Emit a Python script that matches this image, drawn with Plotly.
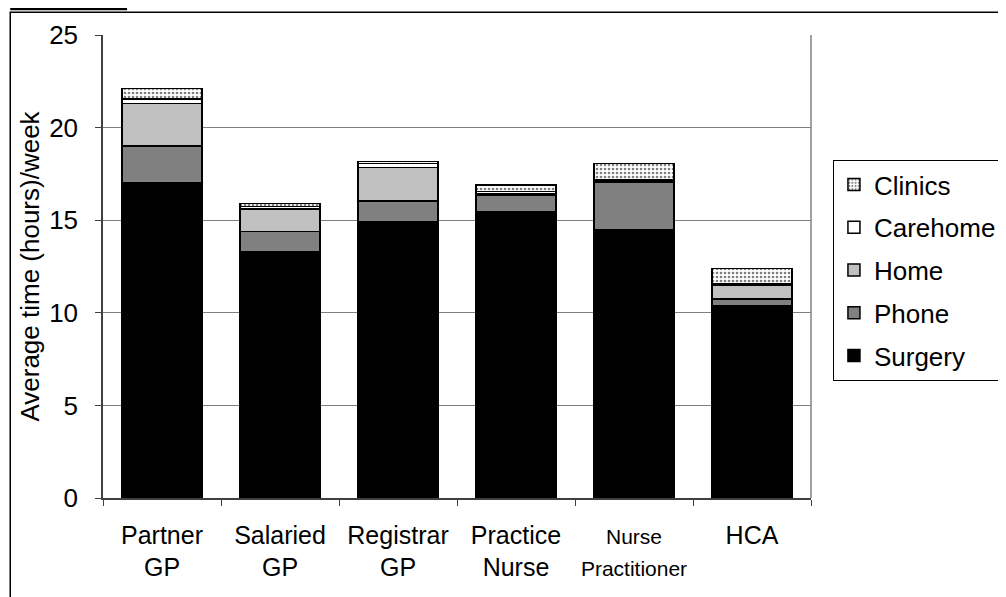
import plotly.graph_objects as go

categories = ["Partner<br>GP", "Salaried<br>GP", "Registrar<br>GP", "Practice<br>Nurse",
              "<span style='font-size:21px'>Nurse<br>Practitioner</span>", "HCA"]
surgery = [17.0, 13.3, 14.9, 15.45, 14.5, 10.4]
phone = [2.0, 1.1, 1.15, 0.9, 2.55, 0.35]
home = [2.3, 1.2, 1.8, 0.1, 0.1, 0.75]
carehome = [0.25, 0.15, 0.2, 0.1, 0.05, 0.05]
clinics = [0.55, 0.15, 0.12, 0.35, 0.85, 0.85]
y_ticks = [0, 5, 10, 15, 20, 25]

series = [
    ("Surgery", surgery, "#000000", None),
    ("Phone", phone, "#808080", None),
    ("Home", home, "#C0C0C0", None),
    ("Carehome", carehome, "#FFFFFF", None),
    ("Clinics", clinics, "#FFFFFF", "."),
]

fig = go.Figure()
n = len(series)
for i, (name, vals, color, pat) in enumerate(series):
    marker = dict(color=color, line=dict(color="#000000", width=1.5))
    if pat:
        marker["pattern"] = dict(shape=pat, fgcolor="#000000", bgcolor="#FFFFFF",
                                 size=4, solidity=0.35, fillmode="overlay")
    fig.add_trace(go.Bar(name=name, x=categories, y=vals, marker=marker,
                         legendgroup=name, legendrank=(n - i) * 100))

# page body has an 8px margin, so margins are reduced by 8px on left/top
fig.update_layout(
    barmode="stack",
    bargap=0.32,
    width=1006, height=597,
    margin=dict(l=95, r=202, t=25, b=107),
    paper_bgcolor="white", plot_bgcolor="white",
    font=dict(family="Liberation Sans, Arial, sans-serif", color="#000000", size=25),
    legend=dict(x=1.031, y=0.73, xanchor="left", yanchor="top",
                traceorder="grouped", bordercolor="#000000", borderwidth=1,
                font=dict(size=26), tracegroupgap=6, itemwidth=30,
                bgcolor="white"),
    showlegend=True,
)
fig.update_yaxes(range=[0, 25], tickvals=y_ticks, showgrid=True, gridcolor="#808080",
                 gridwidth=1, showline=True, linecolor="#404040", linewidth=1.5,
                 ticks="outside", ticklen=6, tickcolor="#404040",
                 tickfont=dict(size=26), ticklabelstandoff=12,
                 title=dict(text="Average time (hours)/week", font=dict(size=26), standoff=2),
                 zeroline=False)
fig.update_xaxes(showline=True, linecolor="#404040", linewidth=1.5,
                 ticks="outside", ticklen=6, tickcolor="#404040", tickson="boundaries",
                 tickfont=dict(size=25), ticklabelstandoff=14)

# right border of plot area
fig.add_shape(type="line", xref="paper", yref="paper", x0=1, x1=1, y0=0, y1=1,
              line=dict(color="#808080", width=1.5))
# outer chart frame
fig.add_shape(type="rect", xref="paper", yref="paper", x0=-0.131, x1=1.5,
              y0=-0.3, y1=1.049, line=dict(color="#000000", width=1.5),
              fillcolor="rgba(0,0,0,0)", layer="below")
# header black bar
fig.add_shape(type="rect", xref="paper", yref="paper", x0=-0.131, x1=0.034,
              y0=1.0535, y1=1.06, line=dict(width=0), fillcolor="#000000")

fig.write_html("out.html")
